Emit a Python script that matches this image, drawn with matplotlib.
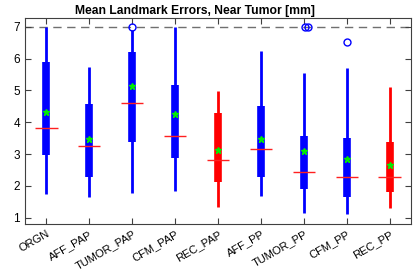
import numpy as np
import matplotlib
matplotlib.use('Agg')
import matplotlib.pyplot as plt
import matplotlib.transforms as mtransforms

plt.rcParams['font.family'] = ['Liberation Sans', 'DejaVu Sans']

labels = ['ORGN', 'AFF_PAP', 'TUMOR_PAP', 'CFM_PAP', 'REC_PAP',
          'AFF_PP', 'TUMOR_PP', 'CFM_PP', 'REC_PP']
colors = ['blue', 'blue', 'blue', 'blue', 'red', 'blue', 'blue', 'blue', 'red']

whisk_lo = [1.75, 1.65, 1.79, 1.84, 1.34, 1.69, 1.14, 1.11, 1.29]
q1 = [2.96, 2.27, 3.39, 2.88, 2.12, 2.27, 1.91, 1.66, 1.82]
median = [3.81, 3.26, 4.62, 3.58, 2.80, 3.15, 2.44, 2.29, 2.28]
mean = [4.32, 3.46, 5.14, 4.26, 3.14, 3.46, 3.10, 2.83, 2.67]
q3 = [5.89, 4.58, 6.20, 5.18, 4.28, 4.52, 3.57, 3.50, 3.39]
whisk_hi = [7.0, 5.73, 6.9, 7.0, 4.98, 6.24, 5.54, 5.70, 5.12]

# outliers: (box position, value)
out_x = [3, 7.02, 7.09, 8]
out_y = [7.0, 7.0, 7.0, 6.54]

cap = 7.0

fig = plt.figure(figsize=(4.15, 2.72), dpi=100)
ax = fig.add_axes([25 / 415, 48 / 272, 386 / 415, 206 / 272])

x = np.arange(1, len(labels) + 1)

ax.axhline(cap, color='#707070', ls=(0, (6, 4)), lw=1, zorder=1)

ax.vlines(x, whisk_lo, whisk_hi, colors=colors, lw=2, zorder=2)
ax.vlines(x, q1, q3, colors=colors, lw=5.5, zorder=3)
ax.hlines(median, x - 0.26, x + 0.26, colors='#ff2020', lw=1, zorder=4)
ax.plot(x, mean, ls='none', marker='*', ms=5, color='#00ee00', mec='#00ee00', zorder=5)
ax.plot(out_x, out_y, ls='none', marker='o', ms=5, mfc='none', mec='blue', mew=1, zorder=5)

ax.set_xlim(0.5, 9.5)
ax.set_ylim(0.8, 7.28)
ax.set_xticks(x)
ax.set_xticklabels(labels, rotation=30, ha='right', va='top', rotation_mode='anchor', fontsize=8)
shift = mtransforms.ScaledTranslation(5 / 100, 0, fig.dpi_scale_trans)
for lab in ax.get_xticklabels():
    lab.set_transform(lab.get_transform() + shift)
ax.set_yticks(range(1, 8))
ax.tick_params(axis='y', labelsize=8.5)
ax.tick_params(direction='in', top=True, right=True, length=4, color='#404040')
for s in ax.spines.values():
    s.set_color('#404040')

ax.set_title('Mean Landmark Errors, Near Tumor [mm]', fontsize=8.7, fontweight='bold',
             pad=3, x=(195 - 25) / 386)

fig.savefig('out.png', dpi=100)
